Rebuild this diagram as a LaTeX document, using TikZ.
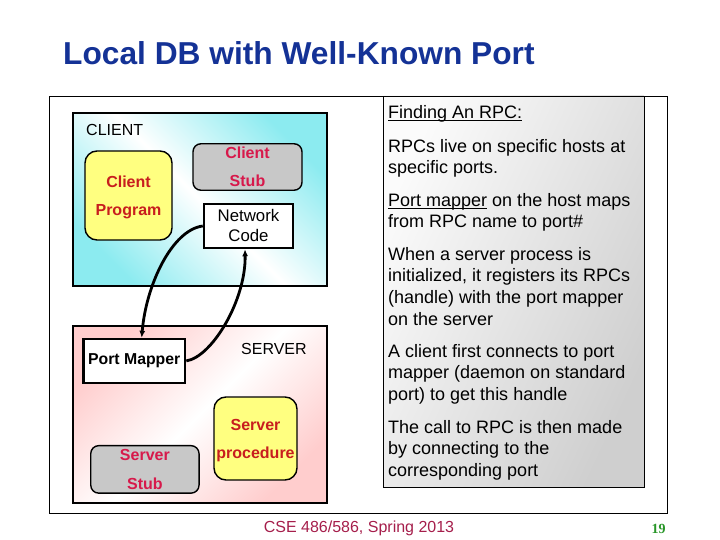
\documentclass[tikz,border=0pt]{standalone}
\usepackage{fontspec}
\setmainfont{Liberation Sans}
\newfontfamily\serifb{Liberation Serif}
\usetikzlibrary{arrows.meta}
\definecolor{titleblue}{RGB}{20,50,150}
\definecolor{progred}{RGB}{200,30,30}
\definecolor{stubred}{RGB}{215,25,75}
\definecolor{boxyellow}{RGB}{255,255,128}
\definecolor{boxgray}{RGB}{200,200,200}
\definecolor{clcyan}{RGB}{140,235,240}
\definecolor{svpink}{RGB}{255,205,205}
\definecolor{footred}{RGB}{165,30,75}
\definecolor{pagegreen}{RGB}{40,150,40}
\newcommand\lstrut{\rule[-3.5pt]{0pt}{18.5pt}}
\newlength\ulwd
\newcommand\ulinetext[1]{\settowidth\ulwd{#1}\rlap{\rule[-2.2pt]{\ulwd}{0.9pt}}#1}
\tikzset{
  frame/.style={draw=black, line width=0.8pt},
  region/.style={draw=black, line width=2pt, inner sep=0pt},
  roundbox/.style={draw=black, line width=1.4pt, rounded corners=10pt, align=center,
    inner sep=0pt, font=\fontsize{16}{28}\selectfont\bfseries},
  plainbox/.style={draw=black, fill=white, line width=2.5pt, align=center, inner sep=0pt},
  link/.style={line width=2.8pt, -{Latex[length=7pt,width=6pt]}},
  para/.style={anchor=north west, inner sep=0pt, align=left,
    font=\fontsize{18}{21.6}\selectfont},
  lbl/.style={anchor=base west, inner sep=0pt, font=\fontsize{16}{19}\selectfont},
}
\begin{document}
\begin{tikzpicture}[x=1pt, y=-1pt]
\useasboundingbox (0,0) rectangle (720,540);
% title
\node[anchor=base west, inner sep=0pt, font=\fontsize{31.7}{38}\selectfont\bfseries, text=titleblue]
  (title) at (63,65) {Local DB with Well-Known Port};
% outer frame
\node[frame, minimum width=617.7pt, minimum height=417pt, inner sep=0pt] (frame) at (358.15,304.5) {};
% text panel
\node[frame, minimum width=261pt, minimum height=391pt, inner sep=0pt,
  top color=gray!3, bottom color=gray!38, shading angle=65] (panel) at (513.5,291.5) {};
% client region
\node[region, minimum width=254pt, minimum height=173.3pt,
  top color=clcyan, bottom color=clcyan, middle color=white, shading angle=-45] (client) at (199.7,199.35) {};
% server region
\node[region, minimum width=254pt, minimum height=177pt,
  top color=svpink, bottom color=svpink, middle color=white, shading angle=45] (server) at (199.7,414.2) {};
\node[lbl] (clientlbl) at (86,136) {CLIENT};
\node[lbl] (serverlbl) at (241,354) {SERVER};
% client boxes
\node[roundbox, fill=boxyellow, text=progred, minimum width=87pt, minimum height=89pt, rounded corners=12pt]
  (cprog) at (128.5,195.5) {\lstrut Client\\\lstrut Program};
\node[roundbox, fill=boxgray, text=stubred, minimum width=109pt, minimum height=44pt, rounded corners=8pt]
  (cstub) at (247.5,167) {\lstrut Client\\\lstrut Stub};
\node[plainbox, minimum width=89pt, minimum height=44pt, font=\fontsize{16.8}{20}\selectfont]
  (nc) at (248.5,226) {\lstrut Network\\\lstrut Code};
% server boxes
\node[plainbox, minimum width=101.7pt, minimum height=43.7pt, font=\fontsize{15.8}{19}\selectfont\bfseries]
  (pm) at (134.2,360.9) {Port Mapper};
\node[roundbox, fill=boxyellow, text=progred, minimum width=83pt, minimum height=83pt, rounded corners=12pt]
  (sproc) at (255.5,438.5) {\lstrut Server\\\lstrut procedure};
\node[roundbox, fill=boxgray, text=stubred, minimum width=108.3pt, minimum height=45.3pt, rounded corners=8pt,
  font=\fontsize{16}{29}\selectfont\bfseries]
  (sstub) at (144.9,469.4) {\lstrut Server\\\lstrut Stub};
% connectors
\draw[link] (nc.west) .. controls (172,230) and (146,285) .. ([xshift=7.5pt]pm.north);
\draw[link] (pm.east) .. controls (212,357) and (246,300) .. ([xshift=-3.5pt]nc.south);
% panel text
\node[para] (p1) at (388,105) {\ulinetext{Finding An RPC:}};
\node[para] (p2) at (388,139) {RPCs live on specific hosts at\\specific ports.};
\node[para] (p3) at (388,193) {\ulinetext{Port mapper} on the host maps\\from RPC name to port\#};
\node[para] (p4) at (388,247) {When a server process is\\initialized, it registers its RPCs\\(handle) with the port mapper\\on the server};
\node[para] (p5) at (388,344) {A client first connects to port\\mapper (daemon on standard\\port) to get this handle};
\node[para] (p6) at (388,420) {The call to RPC is then made\\by connecting to the\\corresponding port};
% footer
\node[anchor=base, inner sep=0pt, font=\fontsize{16}{19}\selectfont, text=footred] (footer) at (359,532) {CSE 486/586, Spring 2013};
\node[anchor=base, inner sep=0pt, font=\serifb\bfseries\fontsize{14}{16}\selectfont, text=pagegreen] (page) at (658.5,533) {19};
\end{tikzpicture}
\end{document}
